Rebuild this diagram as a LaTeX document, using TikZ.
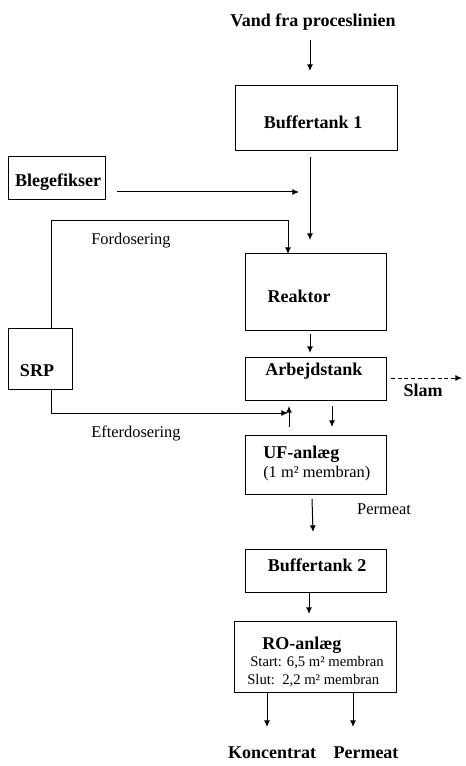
\documentclass[tikz,border=0pt]{standalone}
\usepackage{fontspec}
\setmainfont{Liberation Serif}
\usetikzlibrary{arrows.meta,fit}
\begin{document}
\begin{tikzpicture}[x=0.75pt,y=-0.75pt,
  box/.style={draw, line width=0.75pt, inner sep=0pt},
  bold/.style={font=\fontsize{13.5}{15}\selectfont\bfseries, inner sep=0pt, anchor=base},
  reg/.style={font=\fontsize{12.3}{14}\selectfont, inner sep=0pt, anchor=base},
  small/.style={font=\fontsize{11}{13}\selectfont, inner sep=0pt, anchor=base west},
  arr/.style={line width=0.75pt, -{Latex[length=5pt,width=4.5pt]}},
  ln/.style={line width=0.75pt},
  dashedarr/.style={arr, dash pattern=on 3pt off 2pt}]
\useasboundingbox (0,0) rectangle (466,766);
\fill[white] (0,0) rectangle (466,766);

% boxes
\node[box, fit={(235,86)(397,151)}] (buf1) {};
\node[box, fit={(8,157)(105,200)}] (bleg) {};
\node[box, fit={(245,254)(386,330)}] (reak) {};
\node[box, fit={(245,357)(386,400)}] (arb) {};
\node[box, fit={(8,328)(72,389)}] (srp) {};
\node[box, fit={(245,435)(386,494)}] (uf) {};
\node[box, fit={(245,549)(386,592)}] (buf2) {};
\node[box, fit={(234,621)(396,692)}] (ro) {};

% texts
\node[bold] (tvand) at (313,27) {Vand fra proceslinien};
\node[bold] (tbuf1) at (313,129) {Buffertank 1};
\node[bold] (tbleg) at (58,187) {Blegefikser};
\node[reg] (tford) at (131,245) {Fordosering};
\node[bold] (treak) at (299,302) {Reaktor};
\node[bold] (tarb) at (314,375) {Arbejdstank};
\node[bold] (tslam) at (423,396) {Slam};
\node[bold] (tsrp) at (37,376) {SRP};
\node[reg] (tefter) at (136,437) {Efterdosering};
\node[bold, anchor=base west] (tuf) at (263,458) {UF-anlæg};
\node[reg, anchor=base west] (tufm) at (263,477) {(1 m² membran)};
\node[reg] (tperm1) at (384,514) {Permeat};
\node[bold] (tbuf2) at (317,571) {Buffertank 2};
\node[bold, anchor=base west] (tro) at (262,649) {RO-anlæg};
\node[small] (tstart) at (250,666) {Start: 6,5 m² membran};
\node[small] (tslut) at (247,684) {Slut:\hspace{0.5em}2,2 m² membran};
\node[bold] (tkonc) at (272,758) {Koncentrat};
\node[bold] (tperm2) at (366,758) {Permeat};

% connector end points
\coordinate (c1a) at (310,40);   \coordinate (c1b) at (310,71);
\coordinate (c2a) at (310,157);  \coordinate (c2b) at (310,240);
\coordinate (c3a) at (117,192);  \coordinate (c3b) at (299,192);
\coordinate (c4a) at (51,328);   \coordinate (c4m) at (51,221);
\coordinate (c4n) at (288,221);  \coordinate (c4b) at (288,254);
\coordinate (c5a) at (310,334);  \coordinate (c5b) at (310,353);
\coordinate (c6a) at (391,378);  \coordinate (c6b) at (462,378);
\coordinate (c7a) at (51,389);   \coordinate (c7m) at (51,413);
\coordinate (c7b) at (288,413);
\coordinate (c8a) at (289,427);  \coordinate (c8b) at (289,406);
\coordinate (c9a) at (332,406);  \coordinate (c9b) at (332,427);
\coordinate (c10a) at (312,499); \coordinate (c10b) at (313,532);
\coordinate (c11a) at (309,592); \coordinate (c11b) at (309,614);
\coordinate (c12a) at (267,692); \coordinate (c12b) at (267,727);
\coordinate (c13a) at (353,692); \coordinate (c13b) at (353,727);

% connectors
\draw[arr] (c1a) -- (c1b);
\draw[arr] (c2a) -- (c2b);
\draw[arr] (c3a) -- (c3b);
\draw[arr] (c4a) -- (c4m) -- (c4n) -- (c4b);
\draw[arr] (c5a) -- (c5b);
\draw[dashedarr] (c6a) -- (c6b);
\draw[arr] (c7a) -- (c7m) -- (c7b);
\draw[arr] (c8a) -- (c8b);
\draw[arr] (c9a) -- (c9b);
\draw[arr] (c10a) -- (c10b);
\draw[arr] (c11a) -- (c11b);
\draw[arr] (c12a) -- (c12b);
\draw[arr] (c13a) -- (c13b);
\end{tikzpicture}
\end{document}
